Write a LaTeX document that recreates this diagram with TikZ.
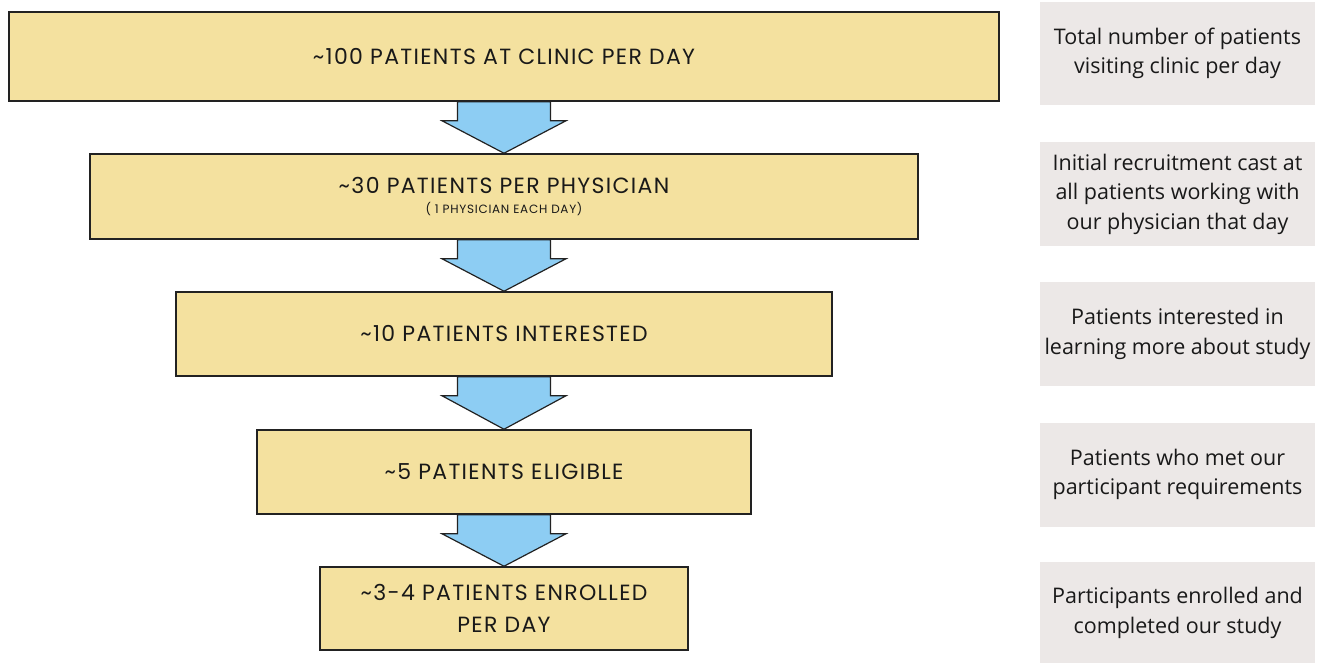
\documentclass[tikz,border=0pt]{standalone}
\usepackage{fontspec}
\setmainfont{Open Sans}
\newfontfamily\capsfont[LetterSpace=6]{Poppins}
\usetikzlibrary{calc}
\definecolor{stagefill}{HTML}{F4E19F}
\definecolor{stageline}{HTML}{222222}
\definecolor{flowfill}{HTML}{8DCDF3}
\definecolor{notefill}{HTML}{ECE8E7}
\tikzset{
  stage/.style={rectangle,draw=stageline,fill=stagefill,line width=1.5pt,align=center,
    font=\capsfont\fontsize{22}{32}\selectfont,text=black!90},
  note/.style={rectangle,fill=notefill,minimum width=275pt,align=center,
    font=\fontsize{21.5}{29.5}\selectfont,text=black!90},
  flow/.style={draw=stageline,fill=flowfill,line width=1.2pt,line join=miter}
}
\begin{document}
\begin{tikzpicture}[x=1pt,y=-1pt]
        \useasboundingbox (0,0) rectangle (1317,663);
        % funnel stages
        \node[stage,minimum width=990pt,minimum height=89pt] (s1) at (504,56.5) {\textasciitilde100 PATIENTS AT CLINIC PER DAY};
        \node[stage,minimum width=828pt,minimum height=85pt] (s2) at (504,196.5) {\textasciitilde30 PATIENTS PER PHYSICIAN\\[-12pt]{\fontsize{12}{13}\selectfont ( 1 PHYSICIAN EACH DAY)}};
        \node[stage,minimum width=656pt,minimum height=84pt] (s3) at (504,334) {\textasciitilde10 PATIENTS INTERESTED};
        \node[stage,minimum width=494pt,minimum height=84pt] (s4) at (504,472) {\textasciitilde5 PATIENTS ELIGIBLE};
        \node[stage,minimum width=368pt,minimum height=83pt] (s5) at (504,608.5) {\textasciitilde3-4 PATIENTS ENROLLED\\PER DAY};
        % arrows between stages
        \foreach \a/\b in {s1/s2,s2/s3,s3/s4,s4/s5}
          \draw[flow] ($(\a.south)+(-46.5,0)$) -- ++(0,19) -- ++(-15.5,0) -- (\b.north)
            -- ($(\a.south)+(62,19)$) -- ++(-15.5,0) -- ++(0,-19) -- cycle;
        % notes on the right
        \node[note,minimum height=103pt] (d1) at (1177.5,53.5) {Total number of patients\\visiting clinic per day};
        \node[note,minimum height=104pt] (d2) at (1177.5,194) {Initial recruitment cast at\\all patients working with\\our physician that day};
        \node[note,minimum height=104pt] (d3) at (1177.5,334) {Patients interested in\\learning more about study};
        \node[note,minimum height=104pt] (d4) at (1177.5,474.5) {Patients who met our\\participant requirements};
        \node[note,minimum height=102pt] (d5) at (1177.5,613) {Participants enrolled and\\completed our study};
\end{tikzpicture}
\end{document}
